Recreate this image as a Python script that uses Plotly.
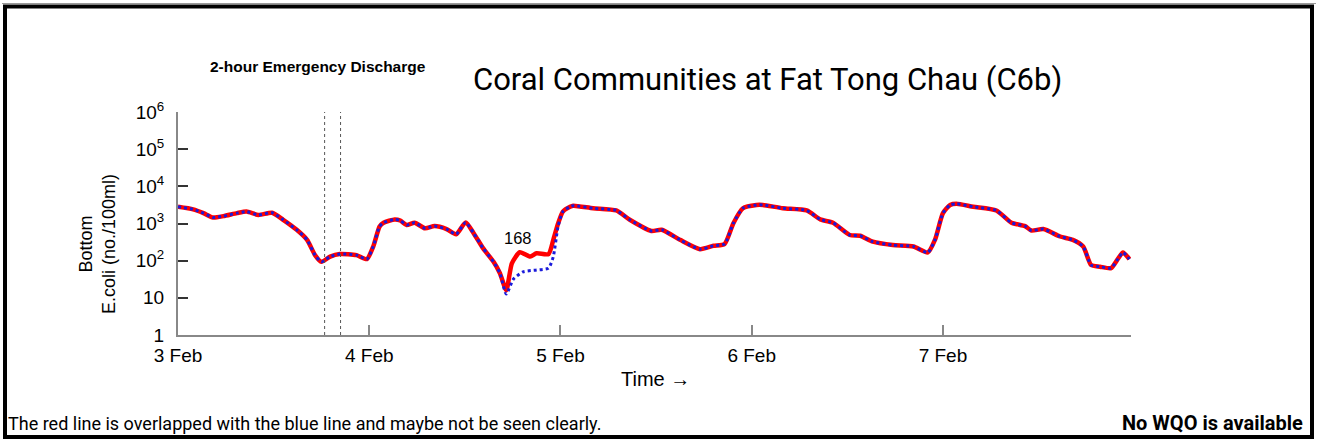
import math
import plotly.graph_objects as go

# ---- data (hours since 3 Feb 00:00, E.coli no./100ml) ----
common_pre_hours = [0, 1.9, 3.2, 4.4, 5.7, 7.4, 8.6, 10.1, 11.8, 13.2, 14.9, 16.2, 17.2, 18.0,
                    19.1, 20.3, 22.4, 23.7, 24.5, 25.3, 25.8, 27.2, 27.9, 28.7, 29.7, 31.0,
                    32.2, 33.7, 34.9, 36.1, 37.1, 38.3, 39.6, 40.4]
common_pre_vals = [2820, 2400, 1900, 1450, 1580, 1900, 2090, 1700, 1950, 1260, 676, 363, 141, 93,
                   129, 151, 141, 110, 240, 832, 1050, 1290, 1200, 912, 1050, 741,
                   851, 708, 513, 1070, 550, 214, 93, 46]

red_event_hours = [41.2, 41.9, 42.9, 44.2, 45.0, 46.5, 47.1, 47.7]
red_event_vals = [16, 85, 168, 129, 158, 151, 363, 1000]

blue_event_hours = [41.2, 42.1, 43.3, 45.0, 46.5, 47.1, 47.7]
blue_event_vals = [12.6, 32, 50, 56, 63, 129, 832]

common_post_hours = [48.3, 49.2, 49.6, 52.1, 55.0, 56.7, 59.4, 60.7, 63.0, 65.5, 67.2, 68.6,
                     69.7, 70.9, 72.6, 73.4, 75.9, 78.9, 80.6, 82.2, 84.3, 85.6, 87.2, 89.7,
                     92.3, 94.1, 95.0, 96.0, 96.9, 97.7, 99.8, 102.7, 104.6, 106.3, 107.1,
                     108.6, 110.7, 112.3, 113.6, 114.6, 115.7, 117.1, 118.0, 118.6, 119.4]
common_post_vals = [2090, 2820, 3020, 2570, 2240, 1260, 631, 676, 363, 204, 251, 282,
                    1020, 2570, 3160, 3160, 2570, 2240, 1290, 1050, 490, 468, 324, 263,
                    240, 166, 363, 1900, 3160, 3390, 2820, 2240, 1050, 851, 646,
                    708, 447, 363, 240, 76, 69, 63, 115, 166, 110]

discharge_hours = [18.4, 20.4]
peak_label = 168
peak_hour = 42.9

x_tick_hours = [0, 24, 48, 72, 96]
x_tick_labels = ["3 Feb", "4 Feb", "5 Feb", "6 Feb", "7 Feb"]
y_tick_vals = [1, 10, 100, 1000, 10000, 100000, 1000000]
y_tick_labels = ["1", "10", "10<sup>2</sup>", "10<sup>3</sup>", "10<sup>4</sup>",
                 "10<sup>5</sup>", "10<sup>6</sup>"]

red_hours = common_pre_hours + red_event_hours + common_post_hours
red_vals = common_pre_vals + red_event_vals + common_post_vals
blue_hours = common_pre_hours + blue_event_hours + common_post_hours
blue_vals = common_pre_vals + blue_event_vals + common_post_vals

W, H = 1319, 443
L, R, T, B = 178, 1131, 112, 335

fig = go.Figure()
fig.add_trace(go.Scatter(x=red_hours, y=red_vals, mode="lines",
                         line=dict(color="#ff0000", width=4.5, shape="spline", smoothing=0.6),
                         showlegend=False, hoverinfo="skip"))
fig.add_trace(go.Scatter(x=blue_hours, y=blue_vals, mode="lines",
                         line=dict(color="#1a1adb", width=3, dash="dot", shape="spline", smoothing=0.6),
                         showlegend=False, hoverinfo="skip"))

shapes = []
for h in discharge_hours:
    shapes.append(dict(type="line", xref="x", yref="paper", x0=h, x1=h, y0=0, y1=1,
                       line=dict(color="#555555", width=1, dash="dot")))

def px_x(p):
    return (p - L) / (R - L)

def px_y(p):
    return (B - p) / (B - T)

shapes.append(dict(type="line", xref="paper", yref="paper",
                   x0=px_x(2), x1=px_x(1316), y0=px_y(3.5), y1=px_y(3.5),
                   line=dict(color="#999999", width=1), layer="above"))
shapes.append(dict(type="rect", xref="paper", yref="paper",
                   x0=px_x(5), x1=px_x(1312), y0=px_y(437), y1=px_y(6.5),
                   line=dict(color="black", width=4), fillcolor="rgba(0,0,0,0)", layer="above"))

annotations = [
    dict(xref="paper", yref="paper", x=px_x(767), y=px_y(79), text="Coral Communities at Fat Tong Chau (C6b)",
         showarrow=False, xanchor="center", yanchor="middle",
         font=dict(family="Roboto", size=31, color="black")),
    dict(xref="paper", yref="paper", x=px_x(318), y=px_y(66), text="<b>2-hour Emergency Discharge</b>",
         showarrow=False, xanchor="center", yanchor="middle",
         font=dict(family="Liberation Sans", size=15.5, color="black")),
    dict(xref="x", yref="y", x=peak_hour - 0.2, y=math.log10(peak_label) + 0.08, text=str(peak_label),
         showarrow=False, xanchor="center", yanchor="bottom",
         font=dict(family="Liberation Sans", size=16.5, color="black")),
    dict(xref="paper", yref="paper", x=px_x(6), y=px_y(423),
         text="The red line is overlapped with the blue line and maybe not be seen clearly.",
         showarrow=False, xanchor="left", yanchor="middle",
         font=dict(family="Roboto", size=18, color="black")),
    dict(xref="paper", yref="paper", x=px_x(1305), y=px_y(423), text="<b>No WQO is available</b>",
         showarrow=False, xanchor="right", yanchor="middle",
         font=dict(family="Roboto", size=20, color="black")),
    dict(xref="paper", yref="paper", x=px_x(655), y=px_y(379), text="Time \u2192",
         showarrow=False, xanchor="center", yanchor="middle",
         font=dict(family="Liberation Sans", size=20, color="black")),
    dict(xref="paper", yref="paper", x=px_x(98), y=px_y(244), text="Bottom<br>E.coli (no./100ml)",
         showarrow=False, xanchor="center", yanchor="middle", textangle=-90,
         font=dict(family="Liberation Sans", size=18, color="black")),
]

fig.update_layout(
    width=W, height=H,
    margin=dict(l=L, r=W - R, t=T, b=H - B, pad=0),
    paper_bgcolor="white", plot_bgcolor="white",
    shapes=shapes, annotations=annotations,
    xaxis=dict(range=[0, 119.6], tickvals=x_tick_hours, ticktext=x_tick_labels,
               showgrid=False, zeroline=False, showline=True, linecolor="#888888", linewidth=2,
               ticks="inside", ticklen=10, tickwidth=1.5, tickcolor="#888888",
               ticklabelstandoff=2,
               tickfont=dict(family="Liberation Sans", size=19, color="black")),
    yaxis=dict(type="log", range=[0, 6], tickvals=y_tick_vals, ticktext=y_tick_labels,
               showgrid=False, zeroline=False, showline=True, linecolor="#888888", linewidth=2,
               ticks="inside", ticklen=10, tickwidth=1.5, tickcolor="#333333",
               ticklabelstandoff=8,
               tickfont=dict(family="Liberation Sans", size=19, color="black")),
)

fig.write_html("out.html", config={"displayModeBar": False},
               post_script="document.body.style.margin='0';document.body.style.overflow='hidden';")
